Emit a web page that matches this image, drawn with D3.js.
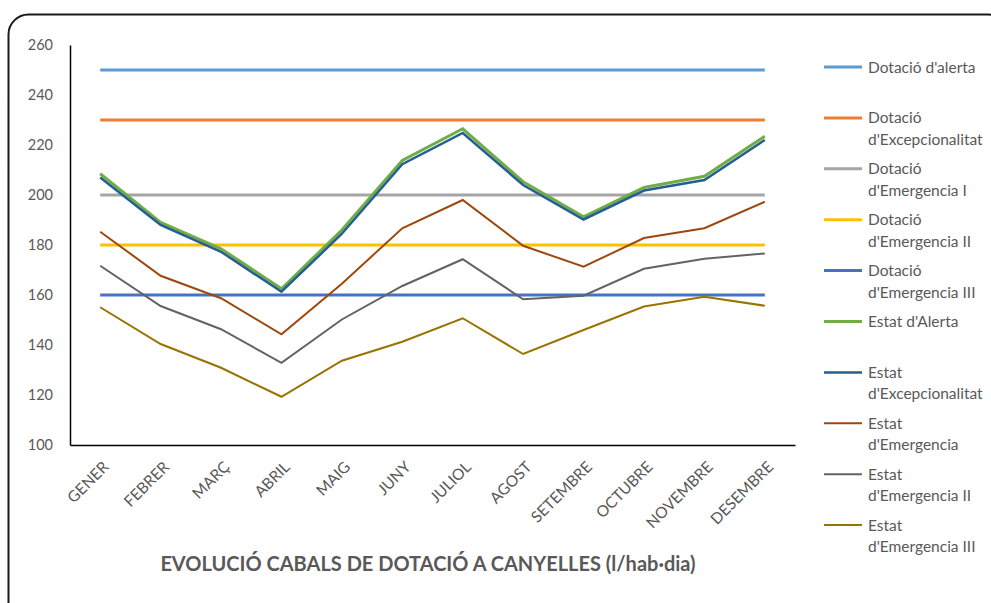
<!DOCTYPE html>
<meta charset="utf-8">
<head>
<style>
body { margin: 0; background: #fff; }
svg text { font-family: Lato, "Open Sans", sans-serif; fill: #595959; }
.serie { fill: none; }
</style>
</head>
<body>
<script src="https://d3js.org/d3.v7.min.js"></script>
<script>

// months (x categories)
var mesos = ["GENER", "FEBRER", "MARÇ", "ABRIL", "MAIG", "JUNY", "JULIOL",
             "AGOST", "SETEMBRE", "OCTUBRE", "NOVEMBRE", "DESEMBRE"];

var yTicks = [100, 120, 140, 160, 180, 200, 220, 240, 260];

// fixed thresholds (dotacions)
var dotacioAlerta = [250, 250, 250, 250, 250, 250, 250, 250, 250, 250, 250, 250];
var dotacioExcep  = [230, 230, 230, 230, 230, 230, 230, 230, 230, 230, 230, 230];
var dotacioEmerg1 = [200, 200, 200, 200, 200, 200, 200, 200, 200, 200, 200, 200];
var dotacioEmerg2 = [180, 180, 180, 180, 180, 180, 180, 180, 180, 180, 180, 180];
var dotacioEmerg3 = [160, 160, 160, 160, 160, 160, 160, 160, 160, 160, 160, 160];

// states (estats)
var estatAlerta = [208.5, 189, 178.5, 162.5, 186, 213.8, 226.5, 205.3, 191.3, 203, 207.5, 223.5];
var estatExcep  = [207, 188, 177.3, 161.3, 184.5, 212.3, 224.8, 204, 190.2, 201.8, 206, 222];
var estatEmerg  = [185.3, 167.7, 158.7, 144.3, 164.5, 186.7, 198, 179.7, 171.3, 182.8, 186.7, 197.3];
var estatEmerg2 = [171.7, 155.6, 146.3, 132.9, 150.2, 163.6, 174.3, 158.3, 159.7, 170.5, 174.5, 176.6];
var estatEmerg3 = [155.1, 140.4, 130.9, 119.3, 133.7, 141.3, 150.7, 136.4, 146, 155.4, 159.3, 155.7];

var series = [
  {name: ["Dotació d'alerta"], values: dotacioAlerta, color: "#5B9BD5", w: 3},
  {name: ["Dotació", "d'Excepcionalitat"], values: dotacioExcep, color: "#ED7D31", w: 3},
  {name: ["Dotació", "d'Emergencia I"], values: dotacioEmerg1, color: "#A5A5A5", w: 3},
  {name: ["Dotació", "d'Emergencia II"], values: dotacioEmerg2, color: "#FFC000", w: 3},
  {name: ["Dotació", "d'Emergencia III"], values: dotacioEmerg3, color: "#4472C4", w: 3},
  {name: ["Estat d'Alerta"], values: estatAlerta, color: "#70AD47", w: 3},
  {name: ["Estat", "d'Excepcionalitat"], values: estatExcep, color: "#255E91", w: 2.5},
  {name: ["Estat", "d'Emergencia"], values: estatEmerg, color: "#9E480E", w: 2},
  {name: ["Estat", "d'Emergencia II"], values: estatEmerg2, color: "#636363", w: 2},
  {name: ["Estat", "d'Emergencia III"], values: estatEmerg3, color: "#997300", w: 2}
];

var W = 991, H = 603;
var plot = {left: 70, right: 795, top: 45, bottom: 445};

var svg = d3.select("body").append("svg")
    .attr("width", W)
    .attr("height", H);

// outer frame with rounded corners
svg.append("rect")
    .attr("x", 8.5).attr("y", 14.5)
    .attr("width", 1000).attr("height", 620)
    .attr("rx", 20)
    .attr("fill", "#fff")
    .attr("stroke", "#1a1a1a")
    .attr("stroke-width", 2);

var x = d3.scalePoint()
    .domain(mesos)
    .range([plot.left, plot.right])
    .padding(0.5);

var y = d3.scaleLinear()
    .domain([100, 260])
    .range([plot.bottom, plot.top]);

// y axis: just the line and labels
var yAxis = svg.append("g")
    .attr("transform", "translate(" + plot.left + ",0)")
    .call(d3.axisLeft(y).tickValues(yTicks).tickSize(0).tickPadding(17));
yAxis.select(".domain").attr("stroke", "#000").attr("stroke-width", 1.5);
yAxis.selectAll("text").style("font-size", "14.5px").attr("fill", "#595959");

// x axis
var xAxis = svg.append("g")
    .attr("transform", "translate(0," + plot.bottom + ")")
    .call(d3.axisBottom(x).tickSize(0).tickSizeOuter(0));
xAxis.select(".domain").attr("stroke", "#000").attr("stroke-width", 1.5);
xAxis.selectAll("text")
    .style("font-size", "15.5px")
    .attr("fill", "#595959")
    .attr("text-anchor", "end")
    .attr("dy", null)
    .attr("y", 0)
    .attr("transform", "translate(9,23) rotate(-45)");

var line = d3.line()
    .x(function(d, i) { return x(mesos[i]); })
    .y(function(d) { return y(d); });

svg.selectAll(".serie")
    .data(series)
  .enter().append("path")
    .attr("class", "serie")
    .attr("d", function(d) { return line(d.values); })
    .attr("stroke", function(d) { return d.color; })
    .attr("stroke-width", function(d) { return d.w; });

// legend
var legend = svg.selectAll(".leg")
    .data(series)
  .enter().append("g")
    .attr("class", "leg")
    .attr("transform", function(d, i) { return "translate(824," + (67 + i * 50.9) + ")"; });

legend.append("line")
    .attr("x1", 0).attr("x2", 38)
    .attr("stroke", function(d) { return d.color; })
    .attr("stroke-width", function(d) { return d.w; });

legend.each(function(d) {
  var g = d3.select(this);
  d.name.forEach(function(t, j) {
    g.append("text")
      .attr("x", 44)
      .attr("y", 5.5 + j * 21.5)
      .style("font-size", "15.5px")
      .text(t);
  });
});

// title
svg.append("text")
    .attr("x", 428)
    .attr("y", 571)
    .attr("text-anchor", "middle")
    .style("font-size", "20px")
    .style("font-weight", "bold")
    .text("EVOLUCIÓ CABALS DE DOTACIÓ A CANYELLES (l/hab·dia)");

</script>
</body>
